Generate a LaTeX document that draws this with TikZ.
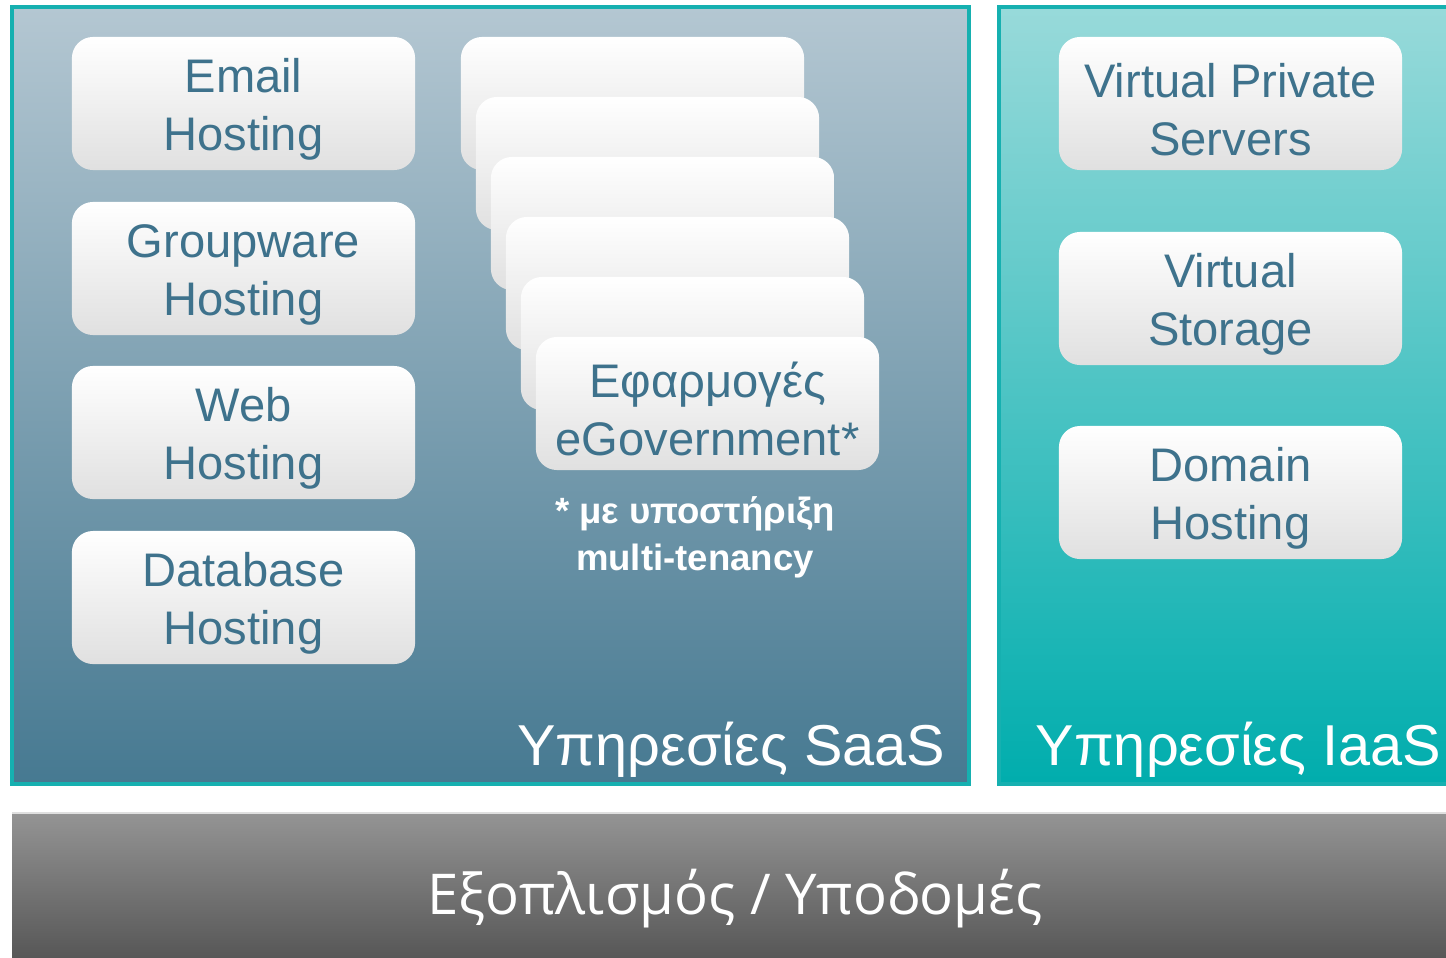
\documentclass[tikz,border=0pt]{standalone}
\usepackage{fontspec}
\setmainfont{Liberation Sans}
\newfontfamily\barfont{Open Sans}
\usepackage{tikz}

\definecolor{boxtext}{RGB}{62,114,140}
\definecolor{boxlow}{RGB}{224,224,224}
\definecolor{saastop}{RGB}{180,199,210}
\definecolor{saasbot}{RGB}{70,121,145}
\definecolor{iaastop}{RGB}{152,218,218}
\definecolor{iaasbot}{RGB}{0,173,173}
\definecolor{bartop}{RGB}{148,148,148}
\definecolor{barbot}{RGB}{86,86,86}
\definecolor{panelline}{RGB}{22,176,176}

\tikzset{
  svcbox/.style={rounded corners=6pt, minimum width=3.43cm, minimum height=1.33cm,
    inner sep=0pt, top color=white, bottom color=boxlow, text=boxtext, align=center,
    font=\fontsize{13.4}{16.5}\selectfont, text height=29.5pt},
  panellabel/.style={text=white, inner sep=0pt, font=\fontsize{16.4}{20}\selectfont},
}

\begin{document}
\begin{tikzpicture}[x=0.01cm,y=-0.01cm]
        \useasboundingbox (0,0) rectangle (1446,957);
        \fill [white] (0,0) rectangle (1446,957);

        % panels
        \shade [top color=saastop, bottom color=saasbot] (12,7) rectangle (969,784);
        \draw [panelline, line width=1.2pt] (12,7) rectangle (969,784);
        \shade [top color=iaastop, bottom color=iaasbot] (999,7) rectangle (1450,784);
        \draw [panelline, line width=1.2pt] (1450,7)--(999,7)--(999,784)--(1450,784);
        \shade [top color=bartop, bottom color=barbot] (12,813) rectangle (1450,960);
        \draw [gray!25, line width=0.6pt] (12,813)--(1450,813);

        % SaaS services
        \node [svcbox] (email) at (243.5,103.5) {Email\\Hosting};
        \node [svcbox] (groupware) at (243.5,268.5) {Groupware\\Hosting};
        \node [svcbox] (web) at (243.5,432.5) {Web\\Hosting};
        \node [svcbox] (database) at (243.5,597.5) {Database\\Hosting};

        \foreach \i in {0,...,4}
            \node [svcbox] (stack\i) at (632.5+15*\i,103.5+60*\i) {};
        \node [svcbox] (egov) at (707.5,403.5) {Εφαρμογές\\eGovernment*};
        \node [text=white, align=center, inner sep=0pt,
               font=\fontsize{10.4}{13.4}\selectfont\bfseries] (note) at (695,537)
              {* με υποστήριξη\\multi-tenancy};

        % IaaS services
        \node [svcbox] (vps) at (1230.5,103.5) {Virtual Private\\Servers};
        \node [svcbox] (storage) at (1230.5,298.5) {Virtual\\Storage};
        \node [svcbox] (domain) at (1230.5,492.5) {Domain\\Hosting};

        \node [panellabel, anchor=base east] (saas) at (946,765) {Υπηρεσίες SaaS};
        \node [panellabel, anchor=base west] (iaas) at (1035,765) {Υπηρεσίες IaaS};
        \node [panellabel, anchor=base, font=\barfont\fontsize{16}{20}\selectfont] (infra) at (735,914)
              {Εξοπλισμός / Υποδομές};
\end{tikzpicture}
\end{document}
